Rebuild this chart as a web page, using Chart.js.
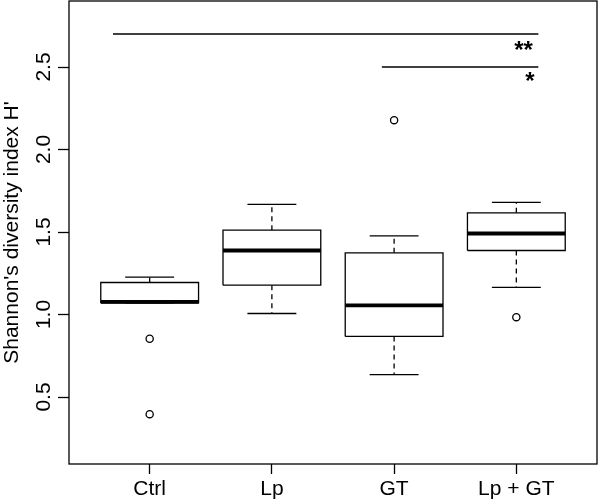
<!DOCTYPE html>
<html>
<head>
<meta charset="utf-8">
<script src="https://cdn.jsdelivr.net/npm/chart.js@4.4.1/dist/chart.umd.min.js"></script>
<style>
  body { margin: 0; background: #fff; }
</style>
</head>
<body>
<canvas id="c" width="600" height="503"></canvas>
<script>
// Shannon diversity per treatment
const groups = ['Ctrl', 'Lp', 'GT', 'Lp + GT'];
const lowerWhisker = [1.070, 1.006, 0.636, 1.164];
const q1 = [1.070, 1.178, 0.867, 1.388];
const median = [1.077, 1.388, 1.055, 1.491];
const q3 = [1.194, 1.511, 1.374, 1.616];
const upperWhisker = [1.226, 1.667, 1.477, 1.679];
const outliers = [[0.853, 0.396], [], [2.178], [0.984]];

const yTicks = [0.5, 1.0, 1.5, 2.0, 2.5];

// significance bars
const sigY = [2.7, 2.5];
const sigFrom = [0.7, 2.9];
const sigTo = [4.18, 4.18];
const sigLabels = ['**', '*'];
const sigLabelY = [2.555, 2.368];
const sigLabelX = [4.135, 4.15];

const FONT = '"Liberation Sans", Arial, Helvetica, sans-serif';
const halfBox = 0.4, halfCap = 0.2;

function seg(x1, y1, x2, y2, width, dash) {
  return {
    type: 'scatter',
    showLine: true,
    data: [{x: x1, y: y1}, {x: x2, y: y2}],
    borderColor: '#000',
    borderWidth: width,
    borderDash: dash || [],
    pointRadius: 0,
    borderCapStyle: 'butt'
  };
}

const datasets = [];
groups.forEach((g, i) => {
  const x = i + 1;
  // box
  datasets.push({
    type: 'scatter',
    showLine: true,
    data: [
      {x: x - halfBox, y: q1[i]}, {x: x + halfBox, y: q1[i]},
      {x: x + halfBox, y: q3[i]}, {x: x - halfBox, y: q3[i]},
      {x: x - halfBox, y: q1[i]}
    ],
    borderColor: '#000', borderWidth: 1.3, pointRadius: 0,
    borderJoinStyle: 'miter'
  });
  // whiskers
  datasets.push(seg(x, q3[i], x, upperWhisker[i], 1.3, [5, 4]));
  datasets.push(seg(x, q1[i], x, lowerWhisker[i], 1.3, [5, 4]));
  datasets.push(seg(x - halfCap, upperWhisker[i], x + halfCap, upperWhisker[i], 1.3));
  datasets.push(seg(x - halfCap, lowerWhisker[i], x + halfCap, lowerWhisker[i], 1.3));
  // median
  datasets.push(seg(x - halfBox, median[i], x + halfBox, median[i], 3.8));
});

datasets.push({
  type: 'scatter',
  data: outliers.flatMap((arr, i) => arr.map(v => ({x: i + 1, y: v}))),
  pointRadius: 3.6,
  pointBackgroundColor: '#fff',
  pointBorderColor: '#000',
  pointBorderWidth: 1.3
});

sigY.forEach((y, i) => datasets.push(seg(sigFrom[i], y, sigTo[i], y, 1.3)));

const extras = {
  id: 'extras',
  afterDraw(chart) {
    const {ctx, chartArea: a, scales} = chart;
    ctx.save();
    ctx.strokeStyle = '#000';
    ctx.lineWidth = 1.3;
    ctx.strokeRect(a.left, a.top, a.right - a.left, a.bottom - a.top);

    ctx.fillStyle = '#000';
    ctx.font = '21px ' + FONT;
    ctx.textAlign = 'center';
    ctx.textBaseline = 'alphabetic';
    yTicks.forEach(v => {
      const py = scales.y.getPixelForValue(v);
      ctx.save();
      ctx.translate(50, py);
      ctx.rotate(-Math.PI / 2);
      ctx.fillText(v.toFixed(1), 0, 0);
      ctx.restore();
    });
    ctx.save();
    ctx.translate(18, (a.top + a.bottom) / 2);
    ctx.rotate(-Math.PI / 2);
    ctx.fillText("Shannon's diversity index H'", 0, 0);
    ctx.restore();

    ctx.textAlign = 'right';
    ctx.font = 'bold 24px ' + FONT;
    sigLabels.forEach((t, i) => {
      ctx.fillText(t, scales.x.getPixelForValue(sigLabelX[i]), scales.y.getPixelForValue(sigLabelY[i]));
    });
    ctx.restore();
  }
};

new Chart(document.getElementById('c'), {
  type: 'scatter',
  data: {datasets},
  options: {
    responsive: false,
    animation: false,
    devicePixelRatio: 1,
    layout: {autoPadding: false, padding: {top: 1, right: 3, left: 0, bottom: 0}},
    plugins: {legend: {display: false}, tooltip: {enabled: false}},
    scales: {
      x: {
        type: 'linear', min: 0.34, max: 4.66,
        afterBuildTicks: s => { s.ticks = groups.map((g, i) => ({value: i + 1})); },
        afterFit: s => { s.height = 39; },
        ticks: {
          callback: v => groups[v - 1],
          color: '#000', font: {family: FONT, size: 21}, padding: 3,
          autoSkip: false, maxRotation: 0
        },
        grid: {drawOnChartArea: false, tickLength: 10, tickColor: '#000', tickWidth: 1.3},
        border: {display: false}
      },
      y: {
        min: 0.094, max: 2.9,
        afterBuildTicks: s => { s.ticks = yTicks.map(v => ({value: v})); },
        afterFit: s => { s.width = 69; },
        ticks: {display: false},
        grid: {drawOnChartArea: false, tickLength: 11, tickColor: '#000', tickWidth: 1.3},
        border: {display: false}
      }
    }
  },
  plugins: [extras]
});
</script>
</body>
</html>
